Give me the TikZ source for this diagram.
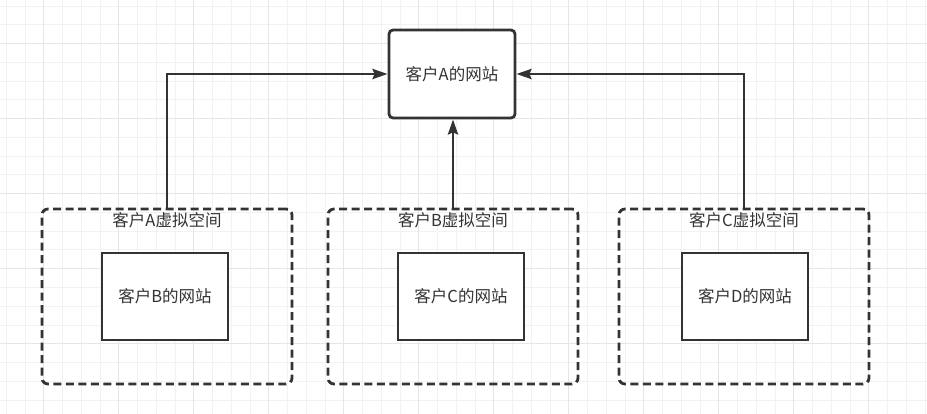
\documentclass[tikz,border=0pt]{standalone}
\usepackage{fontspec}
\setmainfont{Noto Sans CJK SC}
\usepackage{tikz}
\usetikzlibrary{calc,arrows.meta}
\usetikzlibrary{positioning}
\definecolor{dg-line}{HTML}{333333}
\definecolor{dg-grid}{HTML}{F2F2F2}
\definecolor{dg-gridmaj}{HTML}{E6E6E6}

\begin{document}
\begin{tikzpicture}[
    x=1pt, y=-1pt,
    >={Stealth[length=15pt, width=10pt, inset=2pt]},
    site/.style={draw=dg-line, line width=2.8pt, fill=white, rounded corners=4pt, minimum width=126pt, minimum height=88pt, align=center, font=\fontsize{16.5}{19}\selectfont, text=dg-line, inner sep=0pt},
    inner/.style={draw=dg-line, line width=2.8pt, fill=white, minimum width=126pt, minimum height=87pt, align=center, font=\fontsize{16.5}{19}\selectfont, text=dg-line, inner sep=0pt},
    space/.style={draw=dg-line, line width=2.8pt, dash pattern=on 8pt off 4.5pt, rounded corners=6pt, minimum width=250pt, minimum height=175pt, inner sep=0pt},
    title/.style={font=\fontsize{16.5}{19}\selectfont, text=dg-line, anchor=north, inner sep=0pt},
    conn/.style={->, draw=dg-line, line width=2.8pt}
]

% =========================================================================
% FUNDO: GRADE
% =========================================================================
\useasboundingbox (0,0) rectangle (927,414);
\fill[white] (0,0) rectangle (927,414);
\foreach \i in {0,...,49}
    \draw[dg-grid, line width=1pt] ({6.25+18.75*\i},0) -- ({6.25+18.75*\i},414);
\foreach \j in {0,...,22}
    \draw[dg-grid, line width=1pt] (0,{6.25+18.75*\j}) -- (927,{6.25+18.75*\j});
\foreach \i in {0,...,11}
    \draw[dg-gridmaj, line width=1pt] ({43.75+75*\i},0) -- ({43.75+75*\i},414);
\foreach \j in {0,...,4}
    \draw[dg-gridmaj, line width=1pt] (0,{43.75+75*\j}) -- (927,{43.75+75*\j});

% =========================================================================
% SITE PRINCIPAL
% =========================================================================
\node[site] (siteA) at (452, 74) {客户A的网站};

% =========================================================================
% ESPACOS VIRTUAIS
% =========================================================================
\node[space] (spaceA) at (167, 296.5) {};
\node[title] (titleA) at ($(spaceA.north)+(0,5)$) {客户A虚拟空间};
\node[inner] (siteB) at (165, 296.5) {客户B的网站};

\node[space] (spaceB) at (453, 296.5) {};
\node[title] (titleB) at ($(spaceB.north)+(0,5)$) {客户B虚拟空间};
\node[inner] (siteC) at (461, 296.5) {客户C的网站};

\node[space] (spaceC) at (744, 296.5) {};
\node[title] (titleC) at ($(spaceC.north)+(0,5)$) {客户C虚拟空间};
\node[inner] (siteD) at (745, 296.5) {客户D的网站};

% =========================================================================
% LIGACOES
% =========================================================================
\draw[conn] (spaceA.north) |- (siteA.west);
\draw[conn] (spaceB.north) -- (siteA.south -| spaceB.north);
\draw[conn] (spaceC.north) |- (siteA.east);

\end{tikzpicture}
\end{document}
